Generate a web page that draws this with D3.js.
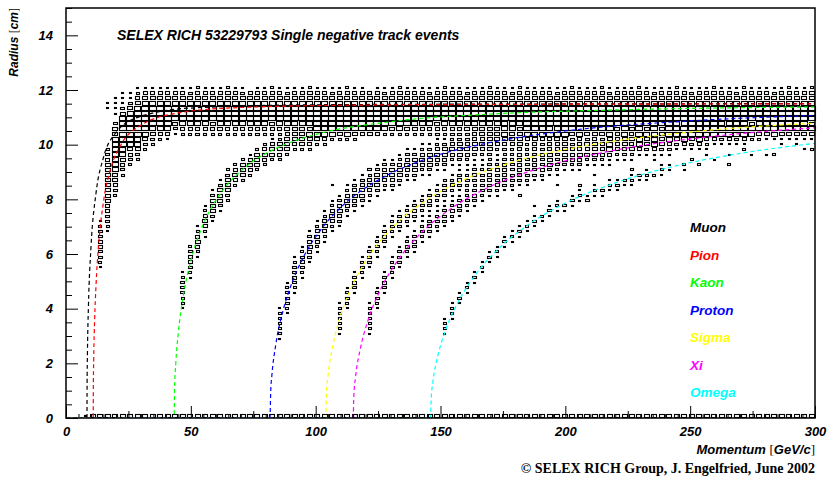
<!DOCTYPE html>
<html>
<head>
<meta charset="utf-8">
<script src="https://cdn.jsdelivr.net/npm/d3@7"></script>
<style>
body { margin: 0; background: #fff; }
svg { display: block; }
</style>
</head>
<body>
<div id="chart"></div>
<script>
// histogram bins: 100 momentum bins of 3 GeV/c, 80 radius bins of 15/80 cm
// each segment is [x bin, first y bin, box sizes bottom-up as digits 0..9]

const mainBand = [
    [4, 29, "1233443321"],
    [5, 36, "12334455556665432"],
    [5, 60, "11"],
    [6, 43, "234567888887653"],
    [6, 59, "1111"],
    [7, 47, "23457899998753"],
    [7, 61, "111"],
    [8, 49, "23468999998631"],
    [8, 63, "1"],
    [9, 50, "235789999986421"],
    [10, 52, "2357999998641"],
    [11, 53, "235799998641"],
    [12, 54, "24799998641"],
    [13, 54, "14799998641"]
];

// saturated part of the muon/pion band, x bins 14..99, y bins 55..64
const mainTail = [
    "1369998641", "2479998641", "2479998631", "3479998642", "2479998641", "2469998641", "2579998641", "2479998652", "2479998641", "2479998631",
    "2479998640", "3479998641", "2479998641", "2469998642", "2479998641", "2579998631", "2479998641", "2479998641", "3479998652", "2479998641",
    "2469998641", "2479998631", "2479998641", "2479998642", "2579998641", "2479998641", "3479998640", "2479998641", "2469998631", "2479998641",
    "2479998652", "2479998641", "2579998641", "2479998641", "2479998631", "3469998641", "2479998642", "2479998641", "2479998641", "2579998631",
    "2479998641", "2479998641", "3479998652", "2469998641", "2479998641", "2479998631", "2479998642", "2579998641", "2479998641", "2479998641",
    "3479998641", "2479998631", "2469998641", "2479998652", "2479998641", "2579998641", "2479998641", "2479998642", "3479998631", "2479998641",
    "2469998641", "2479998641", "2479998652", "2479998641", "2579998631", "2479998641", "3479998641", "2479998642", "2479998641", "2469998631",
    "2479998641", "2479998641", "2579998652", "2479998641", "3479998641", "2479998631", "2479998642", "2469998641", "2479998641", "2479998641",
    "2579998631", "2479998641", "3479998642", "2479998641", "2479998641", "2469998652"
];

const kaonBand = [
    [15, 21, "12233321"], [16, 27, "1234432"], [17, 31, "1245421"], [18, 35, "1245421"],
    [19, 38, "1356531"], [20, 40, "1356531"], [21, 42, "2356532"], [22, 45, "24642"],
    [23, 46, "25652"], [24, 47, "24641"], [25, 48, "25652"], [26, 49, "24642"],
    [27, 50, "25641"], [28, 50, "24652"], [29, 51, "25652"], [30, 52, "24642"],
    [31, 52, "25641"], [32, 52, "24652"], [33, 53, "25652"], [34, 53, "24642"],
    [35, 54, "25652"], [36, 54, "24641"], [37, 54, "25652"], [38, 54, "24642"],
    [39, 55, "2565"], [40, 55, "2464"], [41, 55, "256"], [42, 56, "35"],
    [43, 56, "25"], [44, 56, "35"], [45, 56, "24"]
];

const protonBand = [
    [28, 15, "1222221"], [29, 20, "1233321"], [30, 24, "12343321"], [31, 27, "1234321"],
    [32, 30, "1345431"], [33, 32, "1245421"], [34, 34, "1245421"], [35, 36, "1245421"],
    [36, 37, "1345431"], [37, 39, "1245421"], [38, 40, "1345431"], [39, 41, "1356431"],
    [40, 42, "1245421"], [41, 43, "1356531"], [42, 44, "1245431"], [43, 44, "1346531"],
    [44, 45, "1356421"], [45, 46, "1245431"], [46, 46, "1356531"], [47, 47, "1245421"],
    [48, 47, "1356531"], [49, 48, "1245421"], [50, 48, "1346531"], [51, 49, "1245421"],
    [52, 49, "1356531"], [53, 49, "1245431"], [54, 50, "1356421"], [55, 50, "1245431"],
    [56, 50, "1356531"], [57, 51, "1245421"], [58, 51, "1346531"], [59, 51, "1245431"],
    [60, 51, "1356421"], [61, 52, "1245421"], [62, 52, "1356531"], [63, 52, "1245431"],
    [64, 52, "1346421"], [65, 52, "1245421"], [66, 52, "1356531"], [67, 53, "12454"],
    [68, 53, "13563"], [69, 54, "12453"], [70, 54, "13464"], [71, 54, "12454"],
    [72, 54, "13563"], [74, 54, "1245"], [76, 54, "1345"], [78, 54, "1245"],
    [80, 54, "1345"], [83, 54, "1245"], [86, 55, "234"], [90, 55, "134"],
    [94, 55, "234"], [98, 55, "134"]
];

const sigmaBand = [
    [36, 16, "1222221"], [37, 21, "12321"], [38, 24, "13431"], [39, 27, "12321"],
    [40, 29, "13331"], [41, 31, "12321"], [42, 33, "13431"], [43, 35, "12321"],
    [44, 36, "13331"], [45, 37, "12421"], [46, 38, "13431"], [47, 39, "12321"],
    [48, 40, "13431"], [49, 41, "12321"], [50, 42, "13331"], [51, 43, "12421"],
    [52, 44, "13431"], [53, 44, "12321"], [54, 45, "13431"], [55, 45, "12321"],
    [56, 46, "13331"], [57, 46, "12421"], [58, 47, "13431"], [59, 47, "12321"],
    [60, 48, "13431"], [61, 48, "12321"], [62, 49, "13331"], [63, 49, "12421"],
    [64, 49, "13431"], [65, 50, "12321"], [66, 50, "13431"], [67, 50, "12321"],
    [68, 50, "13331"], [69, 51, "12421"], [70, 51, "13431"], [71, 51, "12321"],
    [72, 51, "13431"], [73, 52, "12321"], [74, 52, "13331"], [75, 52, "12421"],
    [76, 52, "13431"], [77, 52, "12321"], [78, 52, "13431"], [79, 52, "12321"],
    [80, 53, "1331"], [81, 53, "1242"], [82, 53, "1343"], [83, 53, "1232"],
    [84, 53, "1343"], [85, 54, "133"], [86, 54, "124"], [87, 54, "134"],
    [88, 54, "123"], [89, 54, "134"], [90, 54, "123"], [91, 54, "133"],
    [92, 54, "124"], [93, 55, "13"], [94, 55, "12"], [95, 55, "13"],
    [96, 55, "12"], [97, 55, "13"], [98, 55, "12"], [99, 55, "13"]
];

const xiBand = [
    [40, 16, "1222221"], [41, 21, "12321"], [42, 24, "13431"], [43, 27, "12321"],
    [44, 29, "13331"], [45, 31, "12421"], [46, 32, "13431"], [47, 34, "12321"],
    [48, 35, "13431"], [49, 36, "12321"], [50, 37, "13331"], [51, 38, "12421"],
    [52, 39, "13431"], [53, 40, "12321"], [54, 41, "13431"], [55, 42, "12321"],
    [56, 43, "13331"], [57, 43, "12421"], [58, 44, "13431"], [59, 44, "12321"],
    [60, 45, "13431"], [61, 45, "12321"], [62, 46, "13331"], [63, 46, "12421"],
    [64, 47, "13431"], [65, 47, "12321"], [66, 48, "13431"], [67, 48, "12321"],
    [68, 48, "13331"], [69, 49, "12421"], [70, 49, "13431"], [71, 49, "12321"],
    [72, 50, "13431"], [73, 50, "12321"], [74, 50, "13331"], [75, 50, "12421"],
    [76, 51, "13431"], [77, 51, "12321"], [78, 51, "13431"], [79, 51, "12321"],
    [80, 51, "13331"], [81, 52, "12421"], [82, 52, "13431"], [83, 52, "12321"],
    [84, 52, "13431"], [85, 52, "12321"], [86, 53, "1331"], [87, 53, "1242"],
    [88, 53, "1343"], [89, 53, "1232"], [90, 53, "1343"], [91, 54, "133"],
    [92, 54, "124"], [93, 54, "134"], [94, 54, "123"], [95, 54, "134"],
    [96, 54, "123"], [97, 54, "133"], [98, 54, "124"], [99, 54, "134"]
];

const omegaBand = [
    [50, 16, "1221"], [51, 19, "1221"], [52, 22, "131"], [53, 24, "121"],
    [54, 26, "131"], [55, 28, "121"], [56, 30, "131"], [57, 31, "121"],
    [58, 33, "131"], [59, 34, "121"], [60, 35, "131"], [61, 36, "121"],
    [62, 37, "131"], [63, 38, "12"], [64, 39, "131"], [65, 40, "121"],
    [66, 40, "13"], [67, 41, "131"], [68, 42, "121"], [69, 42, "31"],
    [70, 43, "121"], [71, 43, "13"], [72, 44, "121"], [73, 44, "131"],
    [74, 45, "12"], [75, 45, "121"], [76, 46, "13"], [77, 46, "121"],
    [78, 47, "2"], [79, 47, "121"], [80, 48, "1"], [82, 48, "12"],
    [84, 49, "2"], [86, 50, "1"], [88, 49, "2"], [91, 51, "1"],
    [94, 51, "2"], [97, 53, "1"], [99, 52, "2"]
];

// scattered single entries: [x bin, y bin, size]
const strays = [
    [35, 45, 1], [40, 48, 2], [50, 46, 1], [55, 53, 1], [60, 43, 2], [62, 41, 1],
    [65, 45, 1], [68, 45, 2], [70, 47, 1], [72, 49, 1], [75, 48, 2], [78, 50, 1],
    [80, 49, 1], [83, 50, 2], [85, 51, 1], [88, 51, 1], [90, 52, 2], [93, 51, 1],
    [95, 53, 1], [98, 52, 1], [66, 55, 2], [71, 56, 1], [77, 55, 2], [82, 56, 1],
    [87, 56, 2], [92, 56, 1], [96, 57, 2], [99, 56, 1]
];

// bottom row (y bin 0), one digit per x bin 0..99
const baseline = "0015666666" + "6666666666" + "6666656666" + "6666666666" + "6666666666" +
    "6666666566" + "6666666666" + "6666666666" + "6656666666" + "6666666666";

// expected ring radius [p (GeV/c), r (cm)]
const muonCurve = [[0, 0], [8.4, 0], [8.45, 1.25], [8.6, 2.46], [9, 4.13], [10, 6.24], [12, 8.21], [15, 9.53],
    [20, 10.44], [30, 11.04], [50, 11.34], [100, 11.46], [200, 11.49], [300, 11.5]];
const pionCurve = [[0, 0], [10.9, 0], [10.95, 1.1], [11.1, 2.17], [11.5, 3.67], [12, 4.81], [13, 6.27], [15, 7.9],
    [18, 9.15], [22, 9.99], [30, 10.71], [45, 11.16], [70, 11.36], [120, 11.45], [200, 11.48], [300, 11.49]];
const kaonCurve = [[0, 0], [43.3, 0], [43.5, 1.1], [44, 2.04], [45, 3.13], [47, 4.47], [50, 5.75], [55, 7.09],
    [62, 8.23], [72, 9.19], [85, 9.9], [100, 10.37], [130, 10.84], [170, 11.12], [220, 11.27], [300, 11.38]];
const protonCurve = [[0, 0], [81.7, 0], [82, 0.98], [82.5, 1.6], [84, 2.67], [87, 3.95], [90, 4.82], [95, 5.87],
    [102, 6.88], [112, 7.87], [125, 8.7], [145, 9.5], [170, 10.08], [200, 10.5], [250, 10.87], [300, 11.07]];
const sigmaCurve = [[0, 0], [104, 0], [104.3, 0.87], [105, 1.58], [107, 2.7], [110, 3.75], [115, 4.91], [122, 6.01],
    [132, 7.08], [145, 8.01], [160, 8.74], [180, 9.39], [210, 9.99], [250, 10.46], [300, 10.79]];
const xiCurve = [[0, 0], [115, 0], [115.3, 0.83], [116, 1.51], [118, 2.58], [121, 3.58], [126, 4.7], [133, 5.78],
    [142, 6.75], [155, 7.71], [170, 8.47], [190, 9.15], [220, 9.8], [260, 10.31], [300, 10.62]];
const omegaCurve = [[0, 0], [146, 0], [146.3, 0.74], [147, 1.34], [149, 2.3], [152, 3.2], [157, 4.23], [164, 5.24],
    [173, 6.17], [185, 7.06], [200, 7.86], [220, 8.6], [245, 9.24], [270, 9.68], [300, 10.05]];

const particles = ["Muon", "Pion", "Kaon", "Proton", "Sigma", "Xi", "Omega"];
const colors = ["#000000", "#ff0000", "#00ff00", "#0000ff", "#ffff00", "#ff00ff", "#00ffff"];
const curves = [muonCurve, pionCurve, kaonCurve, protonCurve, sigmaCurve, xiCurve, omegaCurve];

const xTicks = [0, 50, 100, 150, 200, 250, 300];
const yTicks = [0, 2, 4, 6, 8, 10, 12, 14];

const W = 828, H = 477;
const xBin = 3, yBin = 15 / 80;
const SANS = "Liberation Sans, Arial, sans-serif";
const SERIF = "Liberation Serif, Times New Roman, serif";

const svg = d3.select("#chart").append("svg")
    .attr("width", W)
    .attr("height", H)
    .attr("font-family", SANS);

const x = d3.scaleLinear().domain([0, 300]).range([66, 815]);
const y = d3.scaleLinear().domain([0, 15]).range([418, 8]);

// sum every band into one cell table
const counts = new Map();
function add(col, row, d) {
    if (d <= 0) return;
    const k = col + ":" + row;
    counts.set(k, Math.min(9, (counts.get(k) || 0) + d));
}
function addSegments(segs) {
    segs.forEach(function(s) {
        for (let i = 0; i < s[2].length; i++) add(s[0], s[1] + i, +s[2][i]);
    });
}
addSegments(mainBand);
mainTail.forEach(function(str, i) {
    for (let j = 0; j < str.length; j++) add(14 + i, 55 + j, +str[j]);
});
[kaonBand, protonBand, sigmaBand, xiBand, omegaBand].forEach(addSegments);
strays.forEach(function(s) { add(s[0], s[1], s[2]); });
for (let i = 0; i < baseline.length; i++) add(i, 0, +baseline[i]);

const cells = [];
counts.forEach(function(v, k) {
    const p = k.split(":");
    cells.push({ col: +p[0], row: +p[1], v: v });
});

const cellW = x(xBin) - x(0);
const cellH = y(0) - y(yBin);

svg.append("clipPath").attr("id", "plot")
    .append("rect").attr("x", 66).attr("y", 8).attr("width", 749).attr("height", 410);

// box per cell, snapped to the pixel grid so the 1px outline stays black
svg.append("g").selectAll("rect")
    .data(cells)
    .enter().append("rect")
    .each(function(d) {
        const f = Math.sqrt(d.v / 9);
        const w = Math.max(2, Math.round(cellW * 0.88 * f));
        const h = Math.max(1, Math.round(cellH * 0.82 * f));
        const cx = x((d.col + 0.5) * xBin);
        const cy = y((d.row + 0.5) * yBin);
        d3.select(this)
            .attr("x", Math.round(cx - w / 2) + 0.5)
            .attr("y", Math.round(cy - h / 2) + 0.5)
            .attr("width", w)
            .attr("height", h);
    })
    .attr("fill", "none")
    .attr("stroke", "#000")
    .attr("stroke-width", 1.1);

// dashed expectation curves
const line = d3.line()
    .x(function(d) { return x(d[0]); })
    .y(function(d) { return y(d[1]); })
    .curve(d3.curveMonotoneX);

svg.append("g").attr("clip-path", "url(#plot)")
    .selectAll("path")
    .data(curves)
    .enter().append("path")
    .attr("d", line)
    .attr("fill", "none")
    .attr("stroke", function(d, i) { return colors[i]; })
    .attr("stroke-width", 1.2)
    .attr("stroke-dasharray", "4,3");

// axes, ticks inside the frame
function styleAxis(g) {
    g.select(".domain").remove();
    g.selectAll("line").attr("stroke", "#000");
    g.selectAll("text")
        .attr("font-family", SANS)
        .attr("font-size", 13)
        .attr("font-weight", "bold")
        .attr("font-style", "italic")
        .attr("fill", "#000");
}

svg.append("g").attr("transform", "translate(0,418)")
    .call(d3.axisBottom(x).tickValues(d3.range(0, 301, 5).filter(function(v) { return v % 25; }))
        .tickSize(-4).tickFormat(""))
    .call(styleAxis);
svg.append("g").attr("transform", "translate(0,418)")
    .call(d3.axisBottom(x).tickValues([25, 75, 125, 175, 225, 275]).tickSize(-7).tickFormat(""))
    .call(styleAxis);
svg.append("g").attr("transform", "translate(0,418)")
    .call(d3.axisBottom(x).tickValues(xTicks).tickSize(-12).tickPadding(9).tickFormat(d3.format("d")))
    .call(styleAxis);

svg.append("g").attr("transform", "translate(66,0)")
    .call(d3.axisLeft(y).tickValues(d3.range(0, 15.01, 0.5).filter(function(v) { return v % 2; }))
        .tickSize(-6).tickFormat(""))
    .call(styleAxis);
svg.append("g").attr("transform", "translate(66,0)")
    .call(d3.axisLeft(y).tickValues(yTicks).tickSize(-12).tickPadding(13).tickFormat(d3.format("d")))
    .call(styleAxis);

svg.append("rect")
    .attr("x", 66).attr("y", 8).attr("width", 749).attr("height", 410)
    .attr("fill", "none").attr("stroke", "#000").attr("stroke-width", 1.5);

// texts
svg.append("text")
    .attr("x", 117).attr("y", 40)
    .attr("font-size", 14).attr("font-weight", "bold").attr("font-style", "italic")
    .text("SELEX RICH 53229793 Single negative track events");

const yTitle = svg.append("text")
    .attr("transform", "translate(18,8) rotate(-90)")
    .attr("text-anchor", "end")
    .attr("font-size", 12).attr("font-style", "italic");
yTitle.append("tspan").attr("font-weight", "bold").text("Radius ");
yTitle.append("tspan").attr("font-family", SERIF).attr("font-style", "normal").text("[");
yTitle.append("tspan").attr("font-weight", "bold").text("cm");
yTitle.append("tspan").attr("font-family", SERIF).attr("font-style", "normal").text("]");

const xTitle = svg.append("text")
    .attr("x", 815).attr("y", 454)
    .attr("text-anchor", "end")
    .attr("font-size", 13).attr("font-style", "italic");
xTitle.append("tspan").attr("font-weight", "bold").text("Momentum ");
xTitle.append("tspan").attr("font-family", SERIF).attr("font-style", "normal").text("[");
xTitle.append("tspan").attr("font-weight", "bold").text("GeV/c");
xTitle.append("tspan").attr("font-family", SERIF).attr("font-style", "normal").text("]");

svg.append("text")
    .attr("x", 815).attr("y", 473)
    .attr("text-anchor", "end")
    .attr("font-family", SERIF)
    .attr("font-size", 14).attr("font-weight", "bold")
    .text("\u00a9 SELEX RICH Group, J. Engelfried, June 2002");

svg.append("g").selectAll("text")
    .data(particles)
    .enter().append("text")
    .attr("x", 690)
    .attr("y", function(d, i) { return 232 + i * 27.5; })
    .attr("font-size", 13.5).attr("font-weight", "bold").attr("font-style", "italic")
    .attr("fill", function(d, i) { return colors[i]; })
    .text(function(d) { return d; });
</script>
</body>
</html>
